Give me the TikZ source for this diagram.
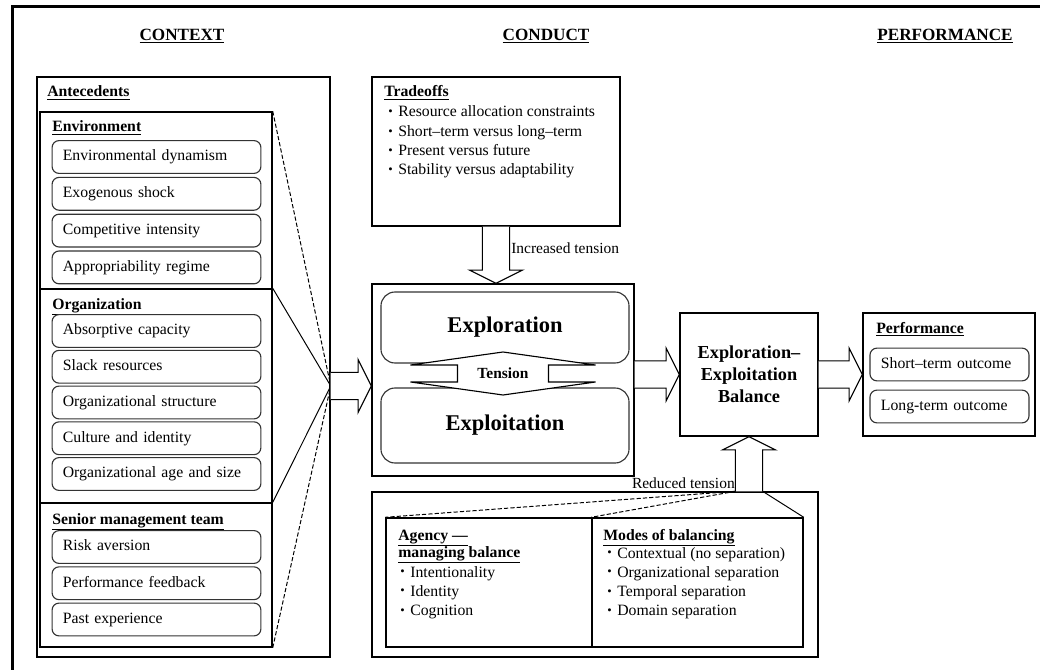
\documentclass[tikz,border=0pt]{standalone}
\usepackage{fontspec}
\setmainfont{Liberation Serif}
\usepackage{graphicx}
\usetikzlibrary{calc, positioning}

\newcommand{\bul}{\makebox[0.25cm][l]{\raisebox{0.08em}{\scalebox{0.8}{\textbullet}}}}
% fat block arrow from #1 (tail) to #2 (tip)
\newcommand{\fatarrow}[2]{%
  \coordinate (fa-base) at ($(#2)!0.33cm!(#1)$);
  \draw[fat] ($(#1)!0.34cm!90:(#2)$) -- ($(fa-base)!0.34cm!90:(#2)$)
    -- ($(fa-base)!0.66cm!90:(#2)$) -- (#2)
    -- ($(fa-base)!0.66cm!-90:(#2)$) -- ($(fa-base)!0.34cm!-90:(#2)$)
    -- ($(#1)!0.34cm!-90:(#2)$);
}

\tikzset{
  box/.style={draw, line width=1pt, inner sep=0pt},
  item/.style={draw=black!80, line width=0.8pt, rounded corners=5pt, minimum height=0.82cm,
    inner xsep=0.27cm, align=left, text width=#1, text height=8pt, text depth=2.5pt,
    font=\fontsize{11.2}{13.7}\selectfont},
  item/.default=4.68cm,
  rbox/.style={draw=black!80, line width=0.8pt, rounded corners=10pt, inner sep=0pt,
    font=\fontsize{16}{19}\selectfont\bfseries},
  head/.style={anchor=base, inner sep=0pt, font=\fontsize{12.2}{14}\selectfont\bfseries},
  ttl/.style={anchor=base west, inner sep=0pt, font=\fontsize{11.2}{13.7}\selectfont\bfseries},
  bullet/.style={anchor=base west, inner sep=0pt, font=\fontsize{11.2}{13.7}\selectfont,
    execute at begin node=\bul},
  lbl/.style={inner sep=0pt, font=\fontsize{11}{13}\selectfont},
  fat/.style={draw, line width=0.8pt, fill=white, line join=miter},
  fan/.style={line width=0.7pt},
  fandash/.style={line width=0.7pt, dash pattern=on 3pt off 1.5pt},
  frame/.style={line width=2.5pt}
}

\begin{document}
\begin{tikzpicture}[x=0.025cm, y=-0.025cm]
  \useasboundingbox (0,0) rectangle (1040,670);
  % Frame
  \draw[frame] (12.5,675) -- (12.5,6.5) -- (1045,6.5);

  % Headings
  \node[head] (hctx) at (182,40.5) {\underline{CONTEXT}};
  \node[head] (hcon) at (546,40.5) {\underline{CONDUCT}};
  \node[head] (hper) at (945,40.5) {\underline{PERFORMANCE}};

  % Antecedents
  \node[box, minimum width=7.325cm, minimum height=14.5cm] (ante) at (183.5,367) {};
  \node[ttl] (tante) at (47,97) {\underline{Antecedents}};
  \node[box, minimum width=5.8cm, minimum height=4.425cm] (env) at (156,200.5) {};
  \node[box, minimum width=5.8cm, minimum height=5.35cm] (org) at (156,396) {};
  \node[box, minimum width=5.8cm, minimum height=3.6cm] (smt) at (156,575) {};
  \node[ttl] (tenv) at (52,132) {\underline{Environment}};
  \node[ttl] (torg) at (52,309) {\underline{Organization}};
  \node[ttl] (tsmt) at (52,524) {\underline{Senior management team}};

  \foreach \t [count=\i from 0] in {Environmental dynamism, Exogenous shock,
      Competitive intensity, Appropriability regime}
    \node[item] (e\i) at (156.5,{157+36.8*\i}) {\t};
  \foreach \t [count=\i from 0] in {Absorptive capacity, Slack resources,
      Organizational structure, Culture and identity, Organizational age and size}
    \node[item] (o\i) at (156.5,{331+35.75*\i}) {\t};
  \foreach \t [count=\i from 0] in {Risk aversion, Performance feedback, Past experience}
    \node[item] (s\i) at (156.5,{547+36.25*\i}) {\t};

  \coordinate (focus) at ($(ante.east)+(0,19)$);
  \draw[fandash] (env.north east) -- (focus);
  \draw[fan] (org.north east) -- (focus);
  \draw[fan] (smt.north east) -- (focus);
  \draw[fandash] (smt.south east) -- (focus);

  % Tradeoffs
  \node[box, minimum width=6.2cm, minimum height=3.725cm] (trade) at (496,151.5) {};
  \node[ttl] (ttrade) at (384,97) {\underline{Tradeoffs}};
  \foreach \t [count=\i from 0] in {Resource allocation constraints, Short–term versus long–term,
      Present versus future, Stability versus adaptability}
    \node[bullet] (t\i) at (388,{117+19.3*\i}) {\t};

  % Exploration / exploitation
  \node[box, minimum width=6.55cm, minimum height=4.8cm] (core) at (503,380) {};
  \node[rbox, minimum width=6.2cm, minimum height=1.775cm] (explor) at (505,327.5) {Exploration};
  \node[rbox, minimum width=6.2cm, minimum height=1.875cm] (exploit) at (505,425.5) {Exploitation};
  \coordinate (tc) at (503,373.5);
  \draw[fat] ($(tc)+(0,-21.5)$) -- ++(92.5,13) -- ++(-47,0) -- ++(0,17) -- ++(47,0)
    -- ($(tc)+(0,21.5)$) -- ++(-92.5,-13) -- ++(47,0) -- ++(0,-17) -- ++(-47,0) -- cycle;
  \node[inner sep=0pt, font=\fontsize{11}{13}\selectfont\bfseries] (tension) at (tc) {Tension};

  % Balance and performance
  \node[box, align=center, font=\fontsize{13}{15.6}\selectfont\bfseries,
    minimum width=3.45cm, minimum height=3.075cm] (bal) at (749,374.5)
    {Exploration–\\Exploitation\\Balance};
  \node[box, minimum width=4.3cm, minimum height=3.075cm] (perf) at (949,374.5) {};
  \node[ttl] (tperf) at (876,333) {\underline{Performance}};
  \node[item=3.43cm, minimum width=3.975cm] (p0) at (949.5,364.5) {Short–term outcome};
  \node[item=3.43cm, minimum width=3.975cm] (p1) at (949.5,406.5) {Long-term outcome};

  % Balancing
  \node[box, minimum width=11.15cm, minimum height=4.125cm] (lower) at (595,574.5) {};
  \node[box, minimum width=5.15cm, minimum height=3.225cm] (agency) at (489,582.5) {};
  \node[box, minimum width=5.275cm, minimum height=3.225cm] (modes) at (697.5,582.5) {};
  \node[ttl] (tag1) at (398,540) {\underline{Agency ---}};
  \node[ttl] (tag2) at (398,557) {\underline{managing balance}};
  \foreach \t [count=\i from 0] in {Intentionality, Identity, Cognition}
    \node[bullet] (a\i) at (400,{577+19.2*\i}) {\t};
  \node[ttl] (tmod) at (603,540) {\underline{Modes of balancing}};
  \foreach \t [count=\i from 0] in {Contextual (no separation), Organizational separation,
      Temporal separation, Domain separation}
    \node[bullet] (m\i) at (607,{558+19.2*\i}) {\t};

  % Block arrows
  \coordinate (in-tip) at (focus -| core.west);
  \fatarrow{focus}{in-tip}
  \coordinate (up-tip) at (trade.south |- core.north);
  \fatarrow{trade.south}{up-tip}
  \node[lbl, anchor=base west] (linc) at (511,253) {Increased tension};
  \coordinate (out-tail) at (core.east |- bal.west);
  \fatarrow{out-tail}{bal.west}
  \fatarrow{bal.east}{perf.west}
  \coordinate (rt) at (bal.south |- lower.north);
  \fatarrow{rt}{bal.south}
  \node[lbl, anchor=base east] (lred) at (735,488) {Reduced tension};
  \draw[fandash] ([xshift=-0.34cm]rt) -- (agency.north west);
  \draw[fandash] ([xshift=-0.34cm]rt) -- (modes.north west);
  \draw[fan] ([xshift=0.34cm]rt) -- (modes.north east);
\end{tikzpicture}
\end{document}
